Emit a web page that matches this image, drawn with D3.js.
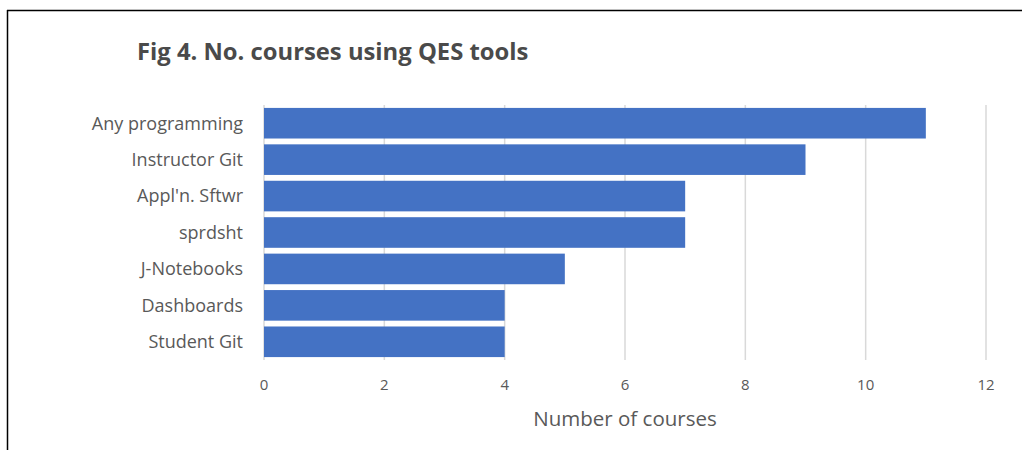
<!DOCTYPE html>
<html>
<head>
<meta charset="utf-8">
<script src="https://cdn.jsdelivr.net/npm/d3@7"></script>
<style>
  html, body { margin: 0; padding: 0; background: #fff; }
  svg { display: block; }
</style>
</head>
<body>
<svg id="chart" width="1022" height="450"></svg>
<script>
// Courses per tool
const categories = ["Any programming", "Instructor Git", "Appl'n. Sftwr", "sprdsht", "J-Notebooks", "Dashboards", "Student Git"];
const courseCounts = [11, 9, 7, 7, 5, 4, 4];
const xTicks = [0, 2, 4, 6, 8, 10, 12];
const titleText = "Fig 4. No. courses using QES tools";
const xAxisTitle = "Number of courses";

const svg = d3.select("#chart");
const font = "'Open Sans', Lato, sans-serif";

// Frame lines
svg.append("line").attr("x1", 7.5).attr("x2", 7.5).attr("y1", 10).attr("y2", 450)
  .attr("stroke", "#000").attr("stroke-width", 1.5);
svg.append("line").attr("x1", 7).attr("x2", 1022).attr("y1", 10.5).attr("y2", 10.5)
  .attr("stroke", "#000").attr("stroke-width", 1.5);

const plot = { left: 264, right: 986, top: 105, bottom: 360 };

const x = d3.scaleLinear().domain([0, 12]).range([plot.left, plot.right]);
const y = d3.scaleBand().domain(categories).range([plot.top, plot.bottom])
  .paddingInner(0.16).paddingOuter(0.08);

// Vertical gridlines
svg.append("g").selectAll("line").data(xTicks).join("line")
  .attr("x1", d => x(d)).attr("x2", d => x(d))
  .attr("y1", plot.top).attr("y2", plot.bottom)
  .attr("stroke", "#d9d9d9").attr("stroke-width", 1.5);

// Bars
svg.append("g").selectAll("rect").data(categories).join("rect")
  .attr("x", x(0))
  .attr("y", d => y(d))
  .attr("width", (d, i) => x(courseCounts[i]) - x(0))
  .attr("height", y.bandwidth())
  .attr("fill", "#4472c4");

// Category labels
svg.append("g").selectAll("text").data(categories).join("text")
  .attr("x", 243)
  .attr("y", d => y(d) + y.bandwidth() / 2)
  .attr("dy", "0.35em")
  .attr("text-anchor", "end")
  .attr("font-family", font)
  .attr("font-size", 18)
  .attr("fill", "#595959")
  .text(d => d);

// X tick labels
svg.append("g").selectAll("text").data(xTicks).join("text")
  .attr("x", d => x(d))
  .attr("y", 390)
  .attr("text-anchor", "middle")
  .attr("font-family", font)
  .attr("font-size", 15)
  .attr("fill", "#595959")
  .text(d => d);

// Axis title
svg.append("text")
  .attr("x", x(6))
  .attr("y", 426)
  .attr("text-anchor", "middle")
  .attr("font-family", font)
  .attr("font-size", 20.5)
  .attr("fill", "#595959")
  .text(xAxisTitle);

// Chart title
svg.append("text")
  .attr("x", 137)
  .attr("y", 60)
  .attr("font-family", font)
  .attr("font-weight", "bold")
  .attr("font-size", 23.8)
  .attr("fill", "#4a4a4a")
  .text(titleText);
</script>
</body>
</html>
